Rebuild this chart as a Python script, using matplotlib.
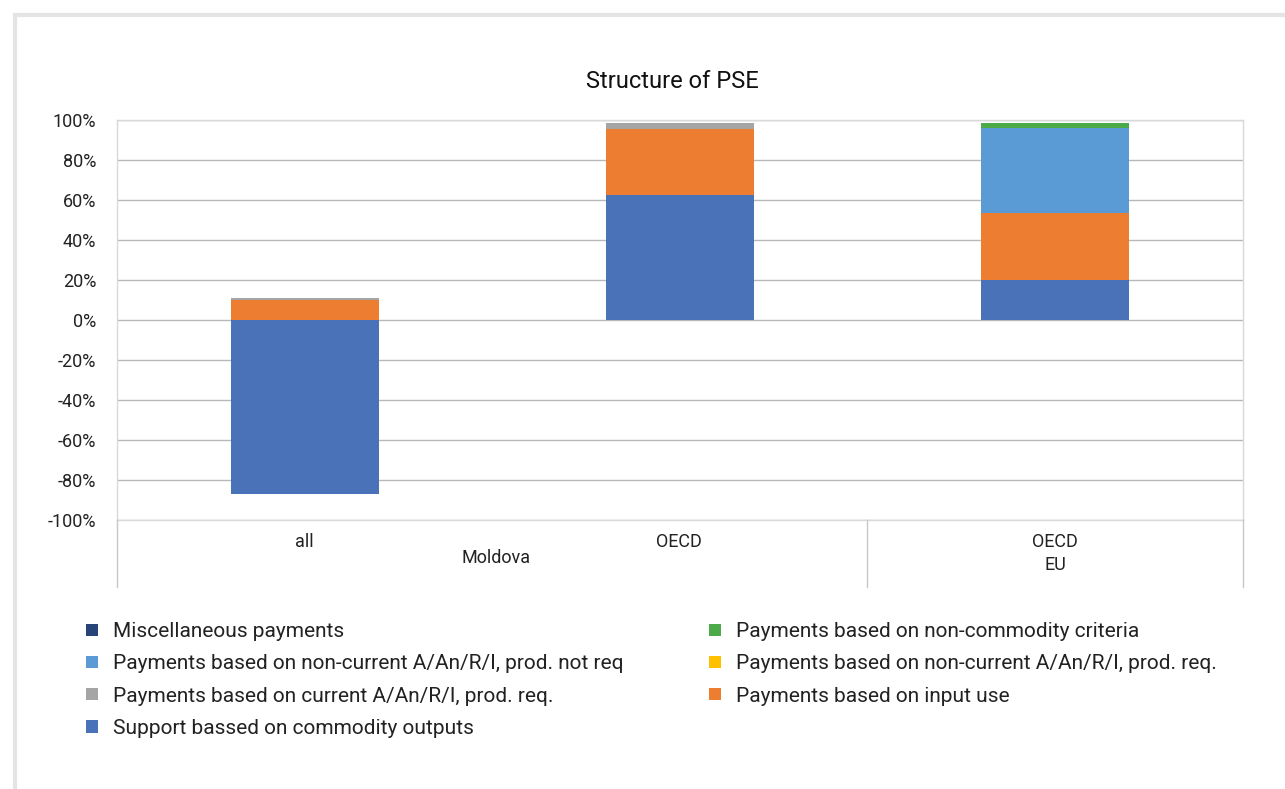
import matplotlib.pyplot as plt
import matplotlib.patches as mpatches
import numpy as np

plt.rcParams['font.family'] = ['Roboto', 'DejaVu Sans']

# categories (two-level axis)
cats = ["all", "OECD", "OECD"]
groups = ["Moldova", "EU"]

# series values in % (stack order bottom -> top)
support = [-87.0, 62.5, 20.0]
input_use = [10.0, 33.0, 33.5]
current_req = [0.8, 3.0, 0.0]
noncurrent_req = [0.0, 0.0, 0.0]
noncurrent_notreq = [0.0, 0.0, 42.5]
noncommodity = [0.0, 0.0, 2.5]
misc = [0.0, 0.0, 0.0]

series = [
    ("Support bassed on commodity outputs", support, "#4A72B8"),
    ("Payments based on input use", input_use, "#ED7D31"),
    ("Payments based on current A/An/R/I, prod. req.", current_req, "#A5A5A5"),
    ("Payments based on non-current A/An/R/I, prod. req.", noncurrent_req, "#FFC000"),
    ("Payments based on non-current A/An/R/I, prod. not req", noncurrent_notreq, "#5B9BD5"),
    ("Payments based on non-commodity criteria", noncommodity, "#4CAA48"),
    ("Miscellaneous payments", misc, "#264478"),
]

txt = "#222222"
fig = plt.figure(figsize=(12.85, 7.89), dpi=100)
W, H = 1285, 789

# card border (runs off the right and bottom edges)
fig.patches.append(mpatches.Rectangle((15 / W, -0.05), 1.1, 1.05 - 15 / H, transform=fig.transFigure,
                                      facecolor="white", edgecolor="#e4e4e4", linewidth=3, zorder=-5))

ax = fig.add_axes([117 / W, 1 - 520 / H, (1243 - 117) / W, 400 / H])
x = np.arange(len(cats))
pos = np.zeros(len(cats))
neg = np.zeros(len(cats))
handles = {}
for name, vals, col in series:
    vals = np.array(vals)
    bottom = np.where(vals >= 0, pos, neg)
    b = ax.bar(x, vals, 0.395, bottom=bottom, color=col, zorder=3)
    handles[name] = b
    pos = pos + np.where(vals >= 0, vals, 0)
    neg = neg + np.where(vals < 0, vals, 0)

ax.set_xlim(-0.5, 2.5)
ax.set_ylim(-100, 100)
ax.set_yticks(np.arange(-100, 101, 20))
ax.set_yticklabels([f"{v}%" for v in range(-100, 101, 20)], fontsize=13, color=txt)
ax.tick_params(axis="y", length=0, pad=15)
ax.set_xticks([])
ax.grid(axis="y", color="#b8b8b8", linewidth=1, zorder=0)
for s in ["top", "left", "right", "bottom"]:
    ax.spines[s].set_color("#d9d9d9")
    ax.spines[s].set_linewidth(1)

# multi-level category axis
def fy(py):
    return 1 - py / H

def fx(px):
    return px / W

fig.text(fx(672), fy(82), "Structure of PSE", ha="center", va="center", fontsize=17, color="#111111")

for px in [117, 867, 1243]:
    fig.add_artist(plt.Line2D([fx(px), fx(px)], [fy(520), fy(587)], color="#c8c8c8", linewidth=1))
fig.text(fx(304), fy(542), cats[0], ha="center", va="center", fontsize=13, color=txt)
fig.text(fx(679), fy(542), cats[1], ha="center", va="center", fontsize=13, color=txt)
fig.text(fx(1055), fy(542), cats[2], ha="center", va="center", fontsize=13, color=txt)
fig.text(fx(496), fy(558), groups[0], ha="center", va="center", fontsize=13, color=txt)
fig.text(fx(1055), fy(565), groups[1], ha="center", va="center", fontsize=13, color=txt)

# legend in two columns
left_names = ["Miscellaneous payments",
              "Payments based on non-current A/An/R/I, prod. not req",
              "Payments based on current A/An/R/I, prod. req.",
              "Support bassed on commodity outputs"]
right_names = ["Payments based on non-commodity criteria",
               "Payments based on non-current A/An/R/I, prod. req.",
               "Payments based on input use"]
leg_kw = dict(frameon=False, fontsize=15, handlelength=0.55, handleheight=0.55,
              handletextpad=0.75, labelspacing=0.63, labelcolor=txt, borderaxespad=0)
l1 = fig.legend([handles[n] for n in left_names], left_names, loc="upper left",
                bbox_to_anchor=(fx(78), fy(614)), **leg_kw)
l2 = fig.legend([handles[n] for n in right_names], right_names, loc="upper left",
                bbox_to_anchor=(fx(701), fy(614)), **leg_kw)

fig.savefig("out.png", dpi=100)
